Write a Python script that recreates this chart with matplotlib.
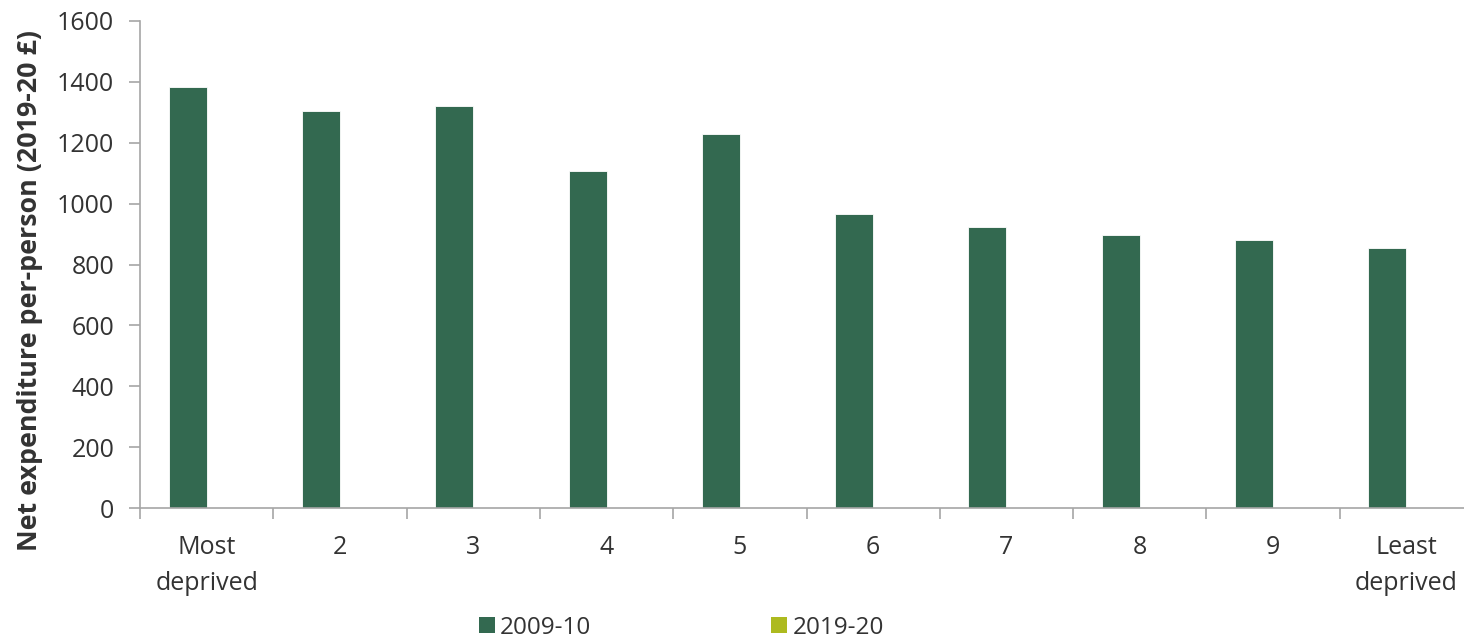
import numpy as np
import matplotlib

matplotlib.use("Agg")
import matplotlib.pyplot as plt
from matplotlib.patches import Patch

plt.rcParams["font.family"] = ["Open Sans", "DejaVu Sans"]

categories = ["Most\ndeprived", "2", "3", "4", "5", "6", "7", "8", "9", "Least\ndeprived"]
spend_2009 = [1384, 1303, 1320, 1107, 1229, 966, 923, 897, 880, 855]
spend_2019 = [np.nan] * 10  # no values plotted for the later year
series_names = ["2009-10", "2019-20"]
colors = ["#336950", "#adba1f"]

text_color = "#333333"
axis_color = "#a6a6a6"
font_size = 18

fig = plt.figure(figsize=(14.64, 6.38), dpi=100)
ax = fig.add_axes([140 / 1464, 1 - 508 / 638, 1333 / 1464, 487 / 638])

x = np.arange(len(categories))
width = 0.285
ax.bar(x - width / 2, spend_2009, width, color=colors[0], edgecolor="#ffffff", linewidth=0.6)
ax.bar(x + width / 2, np.nan_to_num(spend_2019), width, color=colors[1], linewidth=0)

ax.set_xlim(-0.5, len(categories) - 0.5)
ax.set_ylim(0, 1600)
ax.set_yticks(range(0, 1601, 200))

ax.set_xticks(x)
ax.set_xticklabels(categories, fontsize=font_size, color=text_color, linespacing=1.55)
ax.set_xticks(np.arange(-0.5, len(categories)), minor=True)
ax.tick_params(axis="x", which="major", length=0, pad=19.5)
ax.tick_params(axis="x", which="minor", length=8, width=1.2, color=axis_color)
ax.tick_params(axis="y", length=8, width=1.2, color=axis_color, labelsize=font_size,
               labelcolor=text_color, pad=10.5)

for side in ("top", "right"):
    ax.spines[side].set_visible(False)
for side in ("left", "bottom"):
    ax.spines[side].set_color(axis_color)
    ax.spines[side].set_linewidth(1.2)

ax.set_ylabel("Net expenditure per-person (2019-20 £)", fontsize=19.3,
              fontweight="bold", color=text_color)
ax.yaxis.set_label_coords(-0.0728, 0.4476)

handles = [Patch(facecolor=c, edgecolor="none") for c in colors]
fig.legend(handles, series_names, loc="center", bbox_to_anchor=(0.4655, 0.016),
           ncol=2, frameon=False, fontsize=17.5, labelcolor=text_color,
           handlelength=0.66, handleheight=0.66, handletextpad=0.2,
           columnspacing=7.4)

fig.savefig("out.png", dpi=100)
